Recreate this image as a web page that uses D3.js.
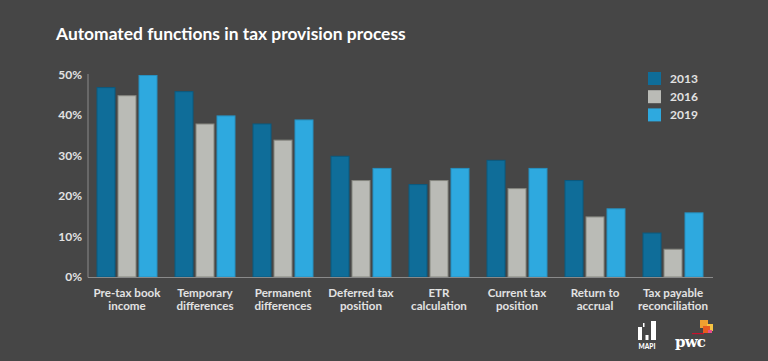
<!DOCTYPE html>
<html>
<head>
<meta charset="utf-8">
<script src="https://cdn.jsdelivr.net/npm/d3@7"></script>
<style>
  html, body { margin: 0; padding: 0; background: #464646; }
  svg { display: block; }
  text { font-family: Lato, "Open Sans", sans-serif; }
</style>
</head>
<body>
<svg id="chart"></svg>
<script>
// chart data
var categories = [
  ["Pre-tax book", "income"],
  ["Temporary", "differences"],
  ["Permanent", "differences"],
  ["Deferred tax", "position"],
  ["ETR", "calculation"],
  ["Current tax", "position"],
  ["Return to", "accrual"],
  ["Tax payable", "reconciliation"]
];
var years = ["2013", "2016", "2019"];
var values2013 = [47, 46, 38, 30, 23, 29, 24, 11];
var values2016 = [45, 38, 34, 24, 24, 22, 15, 7];
var values2019 = [50, 40, 39, 27, 27, 27, 17, 16];
var yTicks = [0, 10, 20, 30, 40, 50];

var width = 768, height = 361;
var colors = ["#0f6d99", "#babbb6", "#2ea9df"];
var strokes = ["#0b5a7f", "#85867f", "#2690c0"];

var series = [values2013, values2016, values2019];

var svg = d3.select("#chart")
    .attr("width", width)
    .attr("height", height);

svg.append("rect")
    .attr("width", width)
    .attr("height", height)
    .attr("fill", "#464646");

svg.append("text")
    .attr("x", 56)
    .attr("y", 40)
    .attr("fill", "#ffffff")
    .attr("font-size", 17.4)
    .attr("font-weight", 700)
    .text("Automated functions in tax provision process");

var x0 = d3.scaleBand()
    .domain(d3.range(categories.length))
    .range([88, 712])
    .paddingInner(0.218)
    .paddingOuter(0.109);

var x1 = d3.scaleBand()
    .domain(years)
    .range([0, x0.bandwidth()])
    .paddingInner(0.095);

var y = d3.scaleLinear()
    .domain([0, 50])
    .range([277, 75]);

// y labels
svg.selectAll(".ylab")
    .data(yTicks)
    .enter().append("text")
    .attr("class", "ylab")
    .attr("x", 82)
    .attr("y", function(d) { return y(d) + 4; })
    .attr("text-anchor", "end")
    .attr("fill", "#e2e2e2")
    .attr("font-size", 12)
    .attr("font-weight", 700)
    .text(function(d) { return d + "%"; });

// bars
var g = svg.selectAll(".grp")
    .data(categories)
    .enter().append("g")
    .attr("class", "grp")
    .attr("transform", function(d, i) { return "translate(" + x0(i) + ",0)"; });

g.selectAll("rect")
    .data(function(d, i) {
        return years.map(function(yr, j) { return {year: yr, j: j, v: series[j][i]}; });
    })
    .enter().append("rect")
    .attr("x", function(d) { return x1(d.year) + 0.5; })
    .attr("y", function(d) { return y(d.v) + 0.5; })
    .attr("width", x1.bandwidth() - 1)
    .attr("height", function(d) { return y(0) - y(d.v) - 0.5; })
    .attr("fill", function(d) { return colors[d.j]; })
    .attr("stroke", function(d) { return strokes[d.j]; })
    .attr("stroke-width", 1);

// axes lines
svg.append("line")
    .attr("x1", 88).attr("x2", 88)
    .attr("y1", 74).attr("y2", 277.5)
    .attr("stroke", "#8a8a8a").attr("stroke-width", 1);
svg.append("line")
    .attr("x1", 88).attr("x2", 713)
    .attr("y1", 277.5).attr("y2", 277.5)
    .attr("stroke", "#8a8a8a").attr("stroke-width", 1);

// category labels, one text per line
categories.forEach(function(lines, i) {
    lines.forEach(function(s, k) {
        svg.append("text")
            .attr("x", x0(i) + x0.bandwidth() / 2)
            .attr("y", 296.5 + k * 13)
            .attr("text-anchor", "middle")
            .attr("fill", "#e2e2e2")
            .attr("font-size", 11.6)
            .attr("font-weight", 700)
            .text(s);
    });
});

// legend
var leg = svg.selectAll(".leg")
    .data(years)
    .enter().append("g")
    .attr("class", "leg")
    .attr("transform", function(d, i) { return "translate(648," + (72 + i * 18.2) + ")"; });
leg.append("rect")
    .attr("width", 13).attr("height", 13)
    .attr("fill", function(d, i) { return colors[i]; });
leg.append("text")
    .attr("x", 22).attr("y", 11)
    .attr("fill", "#e2e2e2")
    .attr("font-size", 12)
    .attr("font-weight", 700)
    .text(function(d) { return d; });

// MAPI logo
var mapi = svg.append("g").attr("fill", "#ffffff");
mapi.append("rect").attr("x", 638).attr("y", 327).attr("width", 4).attr("height", 13);
mapi.append("rect").attr("x", 643).attr("y", 323).attr("width", 1.5).attr("height", 4);
mapi.append("rect").attr("x", 645.5).attr("y", 335).attr("width", 3).attr("height", 5);
mapi.append("rect").attr("x", 651).attr("y", 321).attr("width", 5).attr("height", 19);
mapi.append("text")
    .attr("x", 647).attr("y", 349)
    .attr("text-anchor", "middle")
    .attr("font-size", 6.5)
    .attr("font-weight", 900)
    .text("MAPI");

// PwC logo
var pwc = svg.append("g");
pwc.append("rect").attr("x", 700).attr("y", 320).attr("width", 8).attr("height", 8).attr("fill", "#f0a030");
pwc.append("rect").attr("x", 707).attr("y", 324).attr("width", 6).attr("height", 7).attr("fill", "#f6c343");
pwc.append("rect").attr("x", 703).attr("y", 326).attr("width", 7).attr("height", 7).attr("fill", "#e85b1f");
pwc.append("rect").attr("x", 708).attr("y", 330).attr("width", 4).attr("height", 3).attr("fill", "#e44d8e");
pwc.append("rect").attr("x", 692).attr("y", 333).attr("width", 12).attr("height", 1.2).attr("fill", "#c8102e");
pwc.append("text")
    .attr("x", 675).attr("y", 347)
    .attr("fill", "#ffffff")
    .style("font-family", "'DejaVu Serif', serif")
    .style("font-size", "15px")
    .style("font-weight", 700)
    .style("letter-spacing", "-0.8px")
    .text("pwc");
</script>
</body>
</html>
